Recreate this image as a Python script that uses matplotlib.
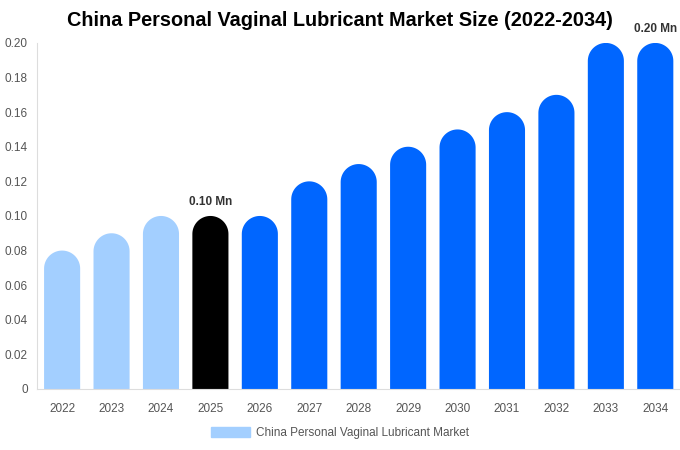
import numpy as np
import matplotlib.pyplot as plt
from matplotlib.patches import Polygon, Patch

plt.rcParams['font.family'] = ['Liberation Sans', 'DejaVu Sans']

years = ['2022', '2023', '2024', '2025', '2026', '2027', '2028',
         '2029', '2030', '2031', '2032', '2033', '2034']
values = [0.08, 0.09, 0.10, 0.10, 0.10, 0.12, 0.13,
          0.14, 0.15, 0.16, 0.17, 0.20, 0.20]
colors = ['#a3cfff'] * 3 + ['#000000'] + ['#0066ff'] * 9
labelled = {3: '0.10 Mn', 12: '0.20 Mn'}

fig = plt.figure(figsize=(6.8, 4.5), dpi=100)
ax_w = 0.945
ax = fig.add_axes([0.055, 0.1356, ax_w, 0.769])

ax.set_xlim(-0.5, len(years) - 0.5)
ax.set_ylim(0, 0.20)

w = 0.73
# radius of the round top in data units (half bar width, in pixels -> y units)
px_per_x = ax_w * 680 / len(years)
px_per_y = 0.769 * 450 / 0.20
rh = (w * px_per_x / 2) / px_per_y

t = np.linspace(0, np.pi, 40)
for i, (v, c) in enumerate(zip(values, colors)):
    top = v - rh
    xs = np.concatenate([[i - w / 2], i - w / 2 * np.cos(t), [i + w / 2]])
    ys = np.concatenate([[0], top + rh * np.sin(t), [0]])
    ax.add_patch(Polygon(np.column_stack([xs, ys]), closed=True, color=c, lw=0))
    if i in labelled:
        ax.text(i, v + 0.0045, labelled[i], ha='center', va='bottom',
                fontsize=8.5, fontweight='bold', color='#333333')

ax.set_xticks(range(len(years)))
ax.set_xticklabels(years)
yt = np.arange(0, 0.201, 0.02)
ax.set_yticks(yt)
ax.set_yticklabels(['0'] + ['%.2f' % t for t in yt[1:]])
ax.tick_params(length=0, labelsize=8.5, colors='#555555')
ax.tick_params(axis='x', pad=10)
ax.tick_params(axis='y', pad=7)

for s in ['top', 'right']:
    ax.spines[s].set_visible(False)
for s in ['left', 'bottom']:
    ax.spines[s].set_color('#dddddd')
    ax.spines[s].set_linewidth(0.8)

fig.text(0.5, 0.955, 'China Personal Vaginal Lubricant Market Size (2022-2034)',
         ha='center', va='center', fontsize=14.3, fontweight='bold')

fig.legend(handles=[Patch(color='#a3cfff', label='China Personal Vaginal Lubricant Market')],
           loc='center', bbox_to_anchor=(0.5, 0.038), frameon=False,
           fontsize=8.5, labelcolor='#555555', handlelength=3.3, handleheight=1.0,
           handletextpad=0.5)

fig.savefig('out.png', dpi=100)
